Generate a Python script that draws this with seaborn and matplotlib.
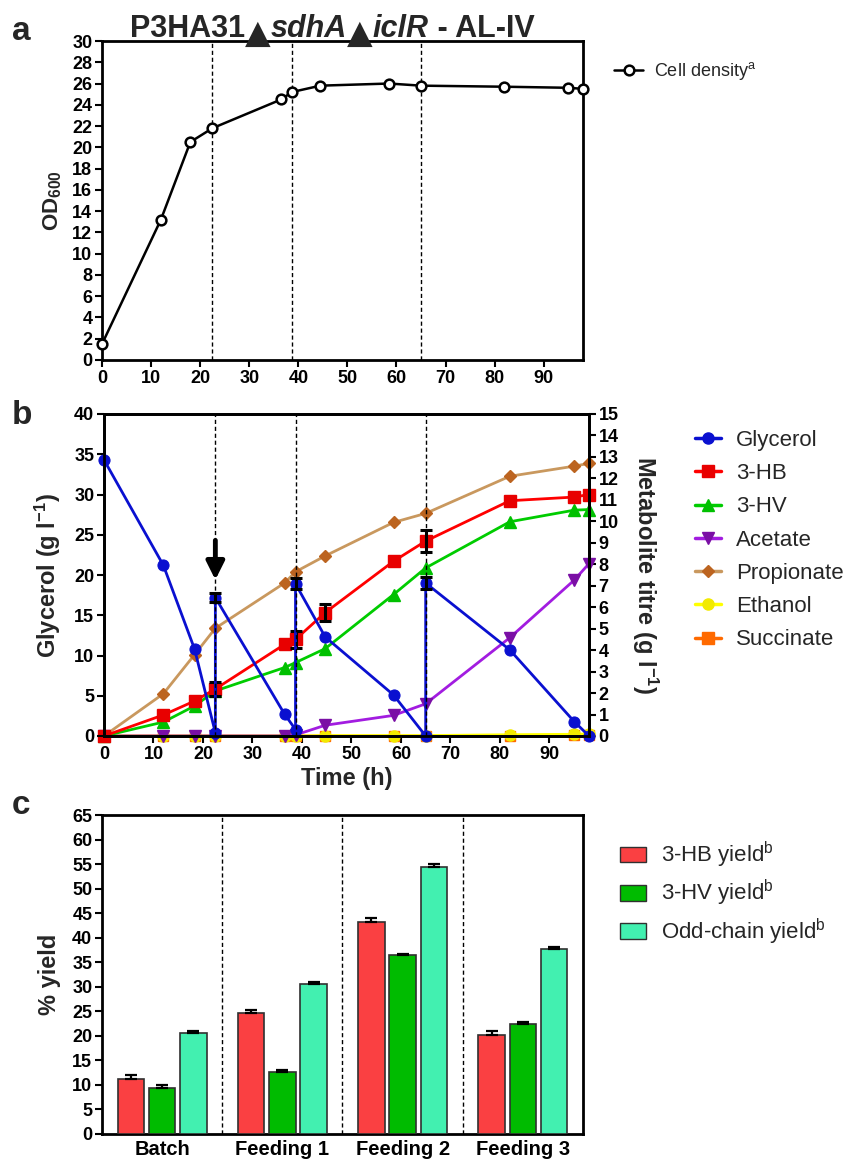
import matplotlib
matplotlib.use("Agg")
import matplotlib.pyplot as plt
import seaborn as sns
import numpy as np
import pandas as pd
from matplotlib.lines import Line2D
from matplotlib.patches import Patch

sns.set_theme(style="ticks")
plt.rcParams['font.family'] = ['Liberation Sans', 'DejaVu Sans']
plt.rcParams['mathtext.fontset'] = 'custom'
plt.rcParams['mathtext.rm'] = 'Liberation Sans'
plt.rcParams['mathtext.it'] = 'Liberation Sans:italic'
plt.rcParams['mathtext.bf'] = 'Liberation Sans:bold'

# ---------------- data ----------------
title_parts = ["P3HA31", "\u25B2", "sdhA", "\u25B2", "iclR", " - AL-IV"]
feed_times = [22.5, 38.7, 65.0]

# panel a
time_od = [0, 12, 18, 22.5, 36.5, 38.7, 44.5, 58.5, 65, 82, 95, 98]
od600 = [1.5, 13.2, 20.5, 21.8, 24.5, 25.2, 25.8, 26.0, 25.8, 25.7, 25.6, 25.5]

# panel b - glycerol (left axis)
time_gly = [0, 12, 18.3, 22.5, 22.5, 36.5, 38.7, 38.7, 44.7, 58.5, 65, 65, 82, 95, 98]
glycerol = [34.3, 21.2, 10.8, 0.4, 17.2, 2.7, 0.8, 18.9, 12.3, 5.1, 0.0, 19.0, 10.7, 1.8, 0.0]
glycerol_err = [0, 0, 0, 0, 0.6, 0, 0, 0.7, 0, 0, 0, 0.7, 0, 0, 0]

# panel b - metabolites (right axis)
time_met = [0, 12, 18.3, 22.5, 36.5, 38.7, 44.7, 58.5, 65, 82, 95, 98]
hb = [0, 0.98, 1.63, 2.19, 4.27, 4.5, 5.75, 8.14, 9.08, 10.96, 11.13, 11.25]
hb_err = [0, 0, 0, 0.33, 0, 0.4, 0.4, 0, 0.53, 0, 0, 0]
hv = [0, 0.65, 1.4, 2.1, 3.19, 3.42, 4.07, 6.59, 7.83, 9.98, 10.52, 10.55]
acetate = [0, 0, 0, 0, 0, 0.05, 0.5, 0.96, 1.5, 4.58, 7.26, 8.03]
propionate = [0, 1.97, 3.79, 5.02, 7.13, 7.65, 8.39, 9.95, 10.37, 12.1, 12.57, 12.7]
ethanol = [0, 0, 0, 0, 0, 0, 0.02, 0.02, 0.02, 0.06, 0.08, 0.1]
succinate = [0, 0, 0, 0, 0, 0, 0, 0, 0, 0.02, 0.03, 0.04]

# panel c
stages = ["Batch", "Feeding 1", "Feeding 2", "Feeding 3"]
yield_names = ["3-HB yield", "3-HV yield", "Odd-chain yield"]
yield_hb = [11.2, 24.75, 43.1, 20.2]
yield_hv = [9.45, 12.65, 36.4, 22.45]
yield_odd = [20.5, 30.5, 54.5, 37.7]
err_hb = [0.8, 0.5, 0.95, 0.7]
err_hv = [0.5, 0.4, 0.3, 0.4]
err_odd = [0.5, 0.4, 0.6, 0.5]

# ---------------- figure ----------------
W, H = 858, 1161
fig = plt.figure(figsize=(W / 100, H / 100), dpi=100)

def fax(l, t, r, b):
    return [l / W, 1 - b / H, (r - l) / W, (b - t) / H]

def style(ax, labelsize=13):
    for sp in ax.spines.values():
        sp.set_linewidth(2.0)
        sp.set_color("black")
        sp.set_visible(True)
    ax.tick_params(direction="out", length=5, width=1.5, labelsize=labelsize,
                   pad=2, colors="black")

def bold_ticks(ax):
    for lab in ax.get_xticklabels() + ax.get_yticklabels():
        lab.set_fontweight("bold")

dash = (0, (3, 2))

# ---------- panel a ----------
axA = fig.add_axes(fax(102, 41, 583, 360))
sns.lineplot(x=time_od, y=od600, ax=axA, color="black", lw=1.8, marker="o",
             markersize=7, markerfacecolor="white", markeredgecolor="black",
             markeredgewidth=1.8, estimator=None, sort=False, legend=False,
             clip_on=False, zorder=5)
for ft in feed_times:
    axA.axvline(ft, color="black", lw=1, ls=dash, zorder=1)
axA.set_xlim(0, 98)
axA.set_ylim(0, 30)
axA.set_xticks(range(0, 91, 10))
axA.set_yticks(range(0, 31, 2))
style(axA)
bold_ticks(axA)
axA.set_xlabel("")
axA.set_ylabel("OD$_{\\mathbf{600}}$", fontsize=16, fontweight="bold", labelpad=6)
axA.legend(handles=[Line2D([], [], color="black", lw=1.8, marker="o", markersize=7,
                           markerfacecolor="white", markeredgewidth=1.8)],
           labels=["Cell density$^{\\mathrm{a}}$"], loc="upper left",
           bbox_to_anchor=(598 / W, 1 - 44 / H), bbox_transform=fig.transFigure,
           frameon=False, fontsize=13, handlelength=1.6, handletextpad=0.6)

# ---------- panel b ----------
axM = fig.add_axes(fax(104, 414, 589, 736))
axG = axM.twinx()
axM.yaxis.tick_right()
axM.yaxis.set_label_position("right")
axG.yaxis.tick_left()
axG.yaxis.set_label_position("left")

met_series = [
    (succinate, "#FF6A00", "#FF6A00", "s", 7),
    (ethanol, "#FFFF00", "#F2EA00", "o", 8),
    (acetate, "#A21CE0", "#7A0FA5", "v", 8),
    (propionate, "#C9985E", "#BC6420", "D", 6),
    (hv, "#00CC00", "#00C000", "^", 8),
    (hb, "#FF0000", "#E80000", "s", 8),
]
for vals, lc, mc, mk, ms in met_series:
    sns.lineplot(x=time_met, y=vals, ax=axM, color=lc, lw=2, marker=mk,
                 markersize=ms, markerfacecolor=mc, markeredgecolor=mc,
                 markeredgewidth=1, estimator=None, sort=False, legend=False,
                 clip_on=False)
hb_arr = np.array(hb)
hb_e = np.array(hb_err)
tm = np.array(time_met)
mask = hb_e > 0
axM.errorbar(tm[mask], hb_arr[mask], yerr=hb_e[mask], fmt="none", ecolor="black",
             elinewidth=2.2, capsize=4.5, capthick=2.2, zorder=6)

sns.lineplot(x=time_gly, y=glycerol, ax=axG, color="#0A10D0", lw=2, marker="o",
             markersize=8, markerfacecolor="#0A10D0", markeredgecolor="#0A10D0",
             estimator=None, sort=False, legend=False, clip_on=False)
g_arr = np.array(glycerol)
g_e = np.array(glycerol_err)
tg = np.array(time_gly)
gm = g_e > 0
axG.errorbar(tg[gm], g_arr[gm], yerr=g_e[gm], fmt="none", ecolor="black",
             elinewidth=2.2, capsize=4.5, capthick=2.2, zorder=6)
for ft in feed_times:
    axG.axvline(ft, color="black", lw=1, ls=dash, zorder=7)
axG.annotate("", xy=(feed_times[0], 19.4), xytext=(feed_times[0], 24.3),
             arrowprops=dict(arrowstyle="-|>,head_length=0.9,head_width=0.45",
                             lw=3.5, color="black", shrinkA=0, shrinkB=0),
             zorder=8)

axM.set_xlim(0, 98)
axM.set_ylim(0, 15)
axM.set_yticks(range(0, 16, 1))
axG.set_ylim(0, 40)
axG.set_yticks(range(0, 41, 5))
axM.set_xticks(range(0, 91, 10))
style(axM)
style(axG)
bold_ticks(axM)
bold_ticks(axG)
axG.set_ylabel("Glycerol (g l$^{\\mathbf{-1}}$)", fontsize=17, fontweight="bold", labelpad=8)
axM.set_ylabel("Metabolite titre (g l$^{\\mathbf{-1}}$)", fontsize=17, fontweight="bold",
               rotation=270, labelpad=30)
axM.set_xlabel("Time (h)", fontsize=17, fontweight="bold", labelpad=3)

leg_b_names = ["Glycerol", "3-HB", "3-HV", "Acetate", "Propionate", "Ethanol", "Succinate"]
leg_b_style = [("#0A10D0", "#0A10D0", "o", 8), ("#FF0000", "#E80000", "s", 8),
               ("#00CC00", "#00C000", "^", 8), ("#A21CE0", "#7A0FA5", "v", 8),
               ("#C9985E", "#BC6420", "D", 6), ("#FFFF00", "#F2EA00", "o", 8),
               ("#FF6A00", "#FF6A00", "s", 8)]
handles_b = [Line2D([], [], color=lc, lw=2.5, marker=mk, markersize=ms,
                    markerfacecolor=mc, markeredgecolor=mc)
             for lc, mc, mk, ms in leg_b_style]
axM.legend(handles=handles_b, labels=leg_b_names, loc="upper left",
           bbox_to_anchor=(675 / W, 1 - 410 / H), bbox_transform=fig.transFigure,
           frameon=False, fontsize=16, handlelength=1.15, handletextpad=0.7,
           labelspacing=0.55)

# ---------- panel c ----------
axC = fig.add_axes(fax(102, 815, 583, 1134))
df = pd.DataFrame({
    "stage": stages * 3,
    "metric": [yield_names[0]] * 4 + [yield_names[1]] * 4 + [yield_names[2]] * 4,
    "value": yield_hb + yield_hv + yield_odd,
})
bar_colors = ["#FA4042", "#00BB00", "#42F0B0"]
sns.barplot(data=df, x="stage", y="value", hue="metric", palette=bar_colors,
            saturation=1, width=0.78, gap=0.15, edgecolor="#303030", linewidth=1.2,
            errorbar=None, ax=axC, legend=False, zorder=3)
for container, errs in zip(axC.containers, [err_hb, err_hv, err_odd]):
    for bar, e in zip(container, errs):
        xc = bar.get_x() + bar.get_width() / 2
        axC.errorbar([xc], [bar.get_height()], yerr=[[0], [e]], fmt="none",
                     ecolor="black", elinewidth=1.6, capsize=4.5, capthick=1.6,
                     zorder=4)
for sep in [0.5, 1.5, 2.5]:
    axC.axvline(sep, color="black", lw=1, ls=dash, zorder=1)
axC.set_xlim(-0.5, 3.5)
axC.set_ylim(0, 65)
axC.set_yticks(range(0, 66, 5))
style(axC)
axC.tick_params(axis="x", length=0, labelsize=14.5, pad=4)
bold_ticks(axC)
axC.set_xlabel("")
axC.set_ylabel("% yield", fontsize=17, fontweight="bold", labelpad=8)
handles_c = [Patch(facecolor=c, edgecolor="#303030", linewidth=1) for c in bar_colors]
axC.legend(handles=handles_c, labels=[n + "$^{\\mathrm{b}}$" for n in yield_names],
           loc="upper left", bbox_to_anchor=(600 / W, 1 - 820 / H),
           bbox_transform=fig.transFigure, frameon=False, fontsize=16,
           handlelength=1.15, handleheight=0.7, handletextpad=0.7,
           labelspacing=0.36)

# ---------- panel letters ----------
for letter, yp in [("a", 40), ("b", 424), ("c", 814)]:
    fig.text(12 / W, 1 - yp / H, letter, fontsize=24, fontweight="bold",
             va="baseline", ha="left")

# ---------- title ----------
base_y = 1 - 37 / H
t0 = fig.text(130 / W, base_y, title_parts[0], fontsize=22, fontweight="bold",
              va="baseline", ha="left")
prev = t0
specs = [
    (title_parts[1], dict(family=["DejaVu Sans"], fontsize=24), (0, -4)),
    (title_parts[2], dict(fontsize=22, fontweight="bold", fontstyle="italic"), (0, 0)),
    (title_parts[3], dict(family=["DejaVu Sans"], fontsize=24), (0, -4)),
    (title_parts[4], dict(fontsize=22, fontweight="bold", fontstyle="italic"), (0, 0)),
    (title_parts[5], dict(fontsize=22, fontweight="bold"), (0, 0)),
]
for txt, kw, off in specs:
    a = axA.annotate(txt, xy=(1, base_y), xycoords=(prev, "figure fraction"),
                     xytext=off, textcoords="offset points", va="baseline",
                     ha="left", annotation_clip=False, **kw)
    prev = a

fig.savefig("out.png", dpi=100)
